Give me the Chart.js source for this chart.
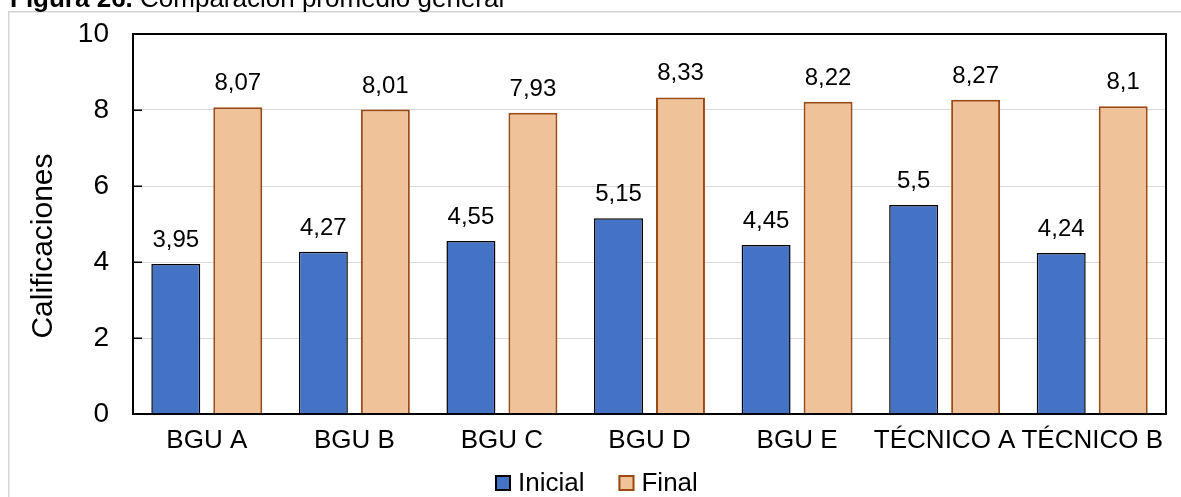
<!DOCTYPE html>
<html>
<head>
<meta charset="utf-8">
<script src="https://cdn.jsdelivr.net/npm/chart.js@4.4.1/dist/chart.umd.min.js"></script>
<style>
  html, body { margin: 0; padding: 0; background: #fff; }
  #wrap { width: 1181px; height: 497px; position: relative; }
</style>
</head>
<body>
<div id="wrap"><canvas id="gradesChart" width="1181" height="497"></canvas></div>
<script>
const categories = ["BGU A", "BGU B", "BGU C", "BGU D", "BGU E", "TÉCNICO A", "TÉCNICO B"];
const inicialValues = [3.95, 4.27, 4.55, 5.15, 4.45, 5.5, 4.24];
const finalValues = [8.07, 8.01, 7.93, 8.33, 8.22, 8.27, 8.1];
const yTicks = [0, 2, 4, 6, 8, 10];

const FONT = "'Liberation Sans', Arial, sans-serif";

function formatComma(v) {
  return String(v).replace(".", ",");
}

// page frame + caption (partly cut off at top like the source)
const framePlugin = {
  id: "frame",
  beforeDraw(chart) {
    const ctx = chart.ctx;
    ctx.save();
    ctx.fillStyle = "#fff";
    ctx.fillRect(0, 0, chart.width, chart.height);
    ctx.strokeStyle = "#d4d4d4";
    ctx.lineWidth = 1.5;
    ctx.strokeRect(8.75, 11.75, 1300, 600);
    ctx.fillStyle = "#000";
    ctx.textBaseline = "alphabetic";
    ctx.textAlign = "left";
    ctx.font = "bold 26px " + FONT;
    const boldPart = "Figura 26.";
    ctx.fillText(boldPart, 10, 7);
    const w = ctx.measureText(boldPart).width;
    ctx.font = "26px " + FONT;
    ctx.fillText(" Comparación promedio general", 10 + w, 7);

    // y axis title, Excel puts it a bit below the plot centre
    ctx.save();
    ctx.translate(52, 246);
    ctx.rotate(-Math.PI / 2);
    ctx.textAlign = "center";
    ctx.font = "30px " + FONT;
    ctx.fillText("Calificaciones", 0, 0);
    ctx.restore();
    ctx.restore();
  },
};

// plot box, inner tick marks, value labels and legend
const boxPlugin = {
  id: "plotBox",
  afterDatasetsDraw(chart) {
    const ctx = chart.ctx;
    const area = chart.chartArea;
    const yScale = chart.scales.y;
    ctx.save();

    ctx.strokeStyle = "#000";
    ctx.lineWidth = 2;
    ctx.strokeRect(area.left, area.top, area.right - area.left, area.bottom - area.top);

    ctx.lineWidth = 1.5;
    yScale.ticks.forEach((t) => {
      const y = Math.round(yScale.getPixelForValue(t.value)) + 0.25;
      ctx.beginPath();
      ctx.moveTo(area.left, y);
      ctx.lineTo(area.left + 9, y);
      ctx.stroke();
    });

    ctx.fillStyle = "#000";
    ctx.font = "24px " + FONT;
    ctx.textAlign = "center";
    ctx.textBaseline = "alphabetic";
    chart.data.datasets.forEach((ds, i) => {
      const meta = chart.getDatasetMeta(i);
      meta.data.forEach((bar, j) => {
        ctx.fillText(formatComma(ds.data[j]), bar.x, bar.y - 17);
      });
    });

    // legend
    let x = 495;
    const boxTop = 475;
    ctx.font = "26px " + FONT;
    ctx.textAlign = "left";
    chart.data.datasets.forEach((ds) => {
      ctx.fillStyle = ds.backgroundColor;
      ctx.fillRect(x, boxTop, 16, 16);
      ctx.strokeStyle = ds.borderColor;
      ctx.lineWidth = 2;
      ctx.strokeRect(x + 1, boxTop + 1, 14, 14);
      ctx.fillStyle = "#000";
      ctx.fillText(ds.label, x + 23, 491);
      x += 23 + ctx.measureText(ds.label).width + 34;
    });
    ctx.restore();
  },
};

new Chart(document.getElementById("gradesChart"), {
  type: "bar",
  data: {
    labels: categories,
    datasets: [
      {
        label: "Inicial",
        data: inicialValues,
        backgroundColor: "#4472C4",
        borderColor: "#000000",
        borderWidth: 1.5,
        categoryPercentage: 0.84,
        barPercentage: 0.79,
      },
      {
        label: "Final",
        data: finalValues,
        backgroundColor: "#F0C29A",
        borderColor: "#9C4A14",
        borderWidth: 2,
        categoryPercentage: 0.84,
        barPercentage: 0.79,
      },
    ],
  },
  options: {
    responsive: false,
    animation: false,
    devicePixelRatio: 1,
    layout: {
      padding: { top: 34, right: 15, left: 9, bottom: 0 },
    },
    scales: {
      y: {
        min: 0,
        max: 10,
        afterFit(scale) {
          scale.width = 124;
        },
        afterBuildTicks(scale) {
          scale.ticks = yTicks.map((v) => ({ value: v }));
        },
        border: { display: false },
        grid: {
          color: "#d9d9d9",
          lineWidth: 1,
          drawTicks: true,
          tickLength: 24,
          tickColor: "rgba(0,0,0,0)",
        },
        ticks: {
          color: "#000",
          padding: 0,
          font: { family: FONT, size: 28 },
        },
      },
      x: {
        afterFit(scale) {
          scale.height = 83;
        },
        border: { display: false },
        grid: { display: false, drawTicks: false },
        ticks: {
          color: "#000",
          padding: 11,
          maxRotation: 0,
          autoSkip: false,
          font: { family: FONT, size: 26 },
        },
      },
    },
    plugins: {
      legend: { display: false },
      tooltip: { enabled: false },
    },
  },
  plugins: [framePlugin, boxPlugin],
});
</script>
</body>
</html>
